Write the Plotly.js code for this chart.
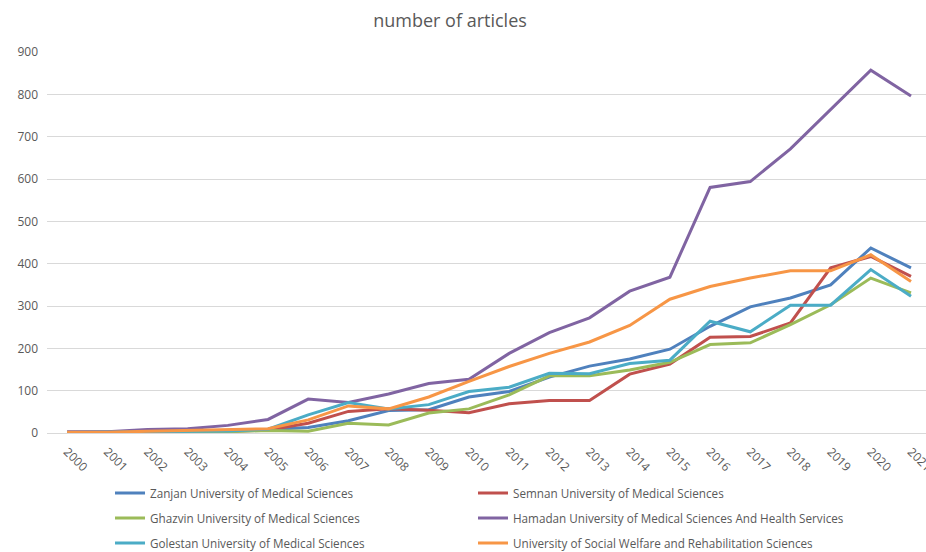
<!DOCTYPE html>
<html>
<head>
<meta charset="utf-8">
<script src="https://cdn.plot.ly/plotly-3.0.1.min.js"></script>
<style>html,body{margin:0;padding:0;background:#fff;}#chart{width:926px;height:552px;}</style>
</head>
<body>
<div id="chart"></div>
<script>
const years = [2000,2001,2002,2003,2004,2005,2006,2007,2008,2009,2010,2011,2012,2013,2014,2015,2016,2017,2018,2019,2020,2021];
const seriesNames = [
  "Zanjan University of Medical Sciences",
  "Semnan University of Medical Sciences",
  "Ghazvin University of Medical Sciences",
  "Hamadan University of Medical Sciences And Health Services",
  "Golestan University of Medical Sciences",
  "University of Social Welfare and Rehabilitation Sciences"
];
const zanjan  = [2,2,3,4,5,8,13,29,53,55,85,98,132,158,175,198,252,298,319,350,437,390];
const semnan  = [1,1,2,3,4,7,23,51,57,54,48,69,77,77,139,163,226,228,260,390,417,370];
const ghazvin = [1,1,2,2,3,6,4,23,19,47,57,90,135,135,149,167,209,213,256,303,366,331];
const hamadan = [3,3,8,10,18,32,80,72,92,117,127,188,237,272,335,368,580,594,671,765,857,796];
const golestan= [1,2,3,4,5,9,43,72,57,67,98,108,141,140,164,172,264,239,302,302,386,323];
const welfare = [2,2,4,6,8,10,31,64,57,85,122,157,188,215,254,316,346,366,383,383,421,358];
const colors = ["#4F81BD","#C0504D","#9BBB59","#8064A2","#4BACC6","#F79646"];
const allSeries = [zanjan, semnan, ghazvin, hamadan, golestan, welfare];
const legendIds = ['legend','legend2','legend3','legend4','legend5','legend6'];

const traces = allSeries.map((vals, i) => ({
  x: years, y: vals, type: 'scatter', mode: 'lines',
  name: seriesNames[i], legend: legendIds[i],
  line: {color: colors[i], width: 3}
}));

function legendCell(xc, yc) {
  return {
    orientation: 'h', xref: 'container', yref: 'container',
    x: xc, xanchor: 'left', y: yc, yanchor: 'middle',
    font: {size: 11.7, color: '#595959', family: 'Open Sans, sans-serif'},
    itemwidth: 30, bgcolor: 'rgba(0,0,0,0)'
  };
}
const colX = [0.1188, 0.5108];
const rowY = [0.1069, 0.0616, 0.0163];

const layout = {
  width: 926, height: 552,
  margin: {l: 47, r: 0, t: 52, b: 119},
  paper_bgcolor: '#fff', plot_bgcolor: '#fff',
  font: {family: 'Open Sans, sans-serif', size: 12, color: '#595959'},
  title: {text: 'number of articles', x: 0.486, xanchor: 'center', y: 0.963, yanchor: 'middle',
          font: {size: 18, color: '#595959', family: 'Open Sans, sans-serif'}},
  xaxis: {
    range: [1999.5, 2021.373], tickmode: 'array', tickvals: years, ticktext: years.map(String),
    tickangle: 45, showgrid: false, zeroline: false, showline: true, linecolor: '#D9D9D9', linewidth: 1,
    ticks: '', ticklabelstandoff: 6, ticklabeloverflow: 'allow', automargin: false,
    tickfont: {size: 12, color: '#595959'}
  },
  yaxis: {
    range: [0, 900], tickvals: [0,100,200,300,400,500,600,700,800,900],
    showgrid: true, gridcolor: '#D9D9D9', gridwidth: 1, zeroline: false, showline: false,
    ticks: '', ticklabelstandoff: 8, automargin: false, tickfont: {size: 12, color: '#595959'}
  },
  showlegend: true,
  legend:  legendCell(colX[0], rowY[0]),
  legend2: legendCell(colX[1], rowY[0]),
  legend3: legendCell(colX[0], rowY[1]),
  legend4: legendCell(colX[1], rowY[1]),
  legend5: legendCell(colX[0], rowY[2]),
  legend6: legendCell(colX[1], rowY[2])
};

Plotly.newPlot('chart', traces, layout, {staticPlot: true});
</script>
</body>
</html>
